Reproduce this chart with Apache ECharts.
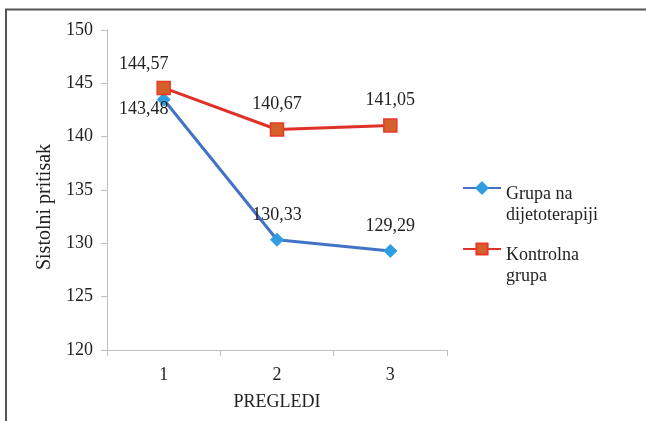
<!DOCTYPE html>
<html>
<head>
<meta charset="utf-8">
<script src="https://cdn.jsdelivr.net/npm/echarts@6/dist/echarts.min.js"></script>
<style>
  html, body { margin: 0; padding: 0; background: #fff; }
  #chart { width: 646px; height: 421px; }
</style>
</head>
<body>
<div id="chart"></div>
<script>
// Examination rounds and mean systolic pressure per group
const pregledi = ['1', '2', '3'];
const grupaDijeta = [143.48, 130.33, 129.29];
const kontrolnaGrupa = [144.57, 140.67, 141.05];
const yTicks = { min: 120, max: 150, step: 5 };

const FONT = '"Liberation Serif", "Times New Roman", serif';
const fmt = v => v.toFixed(2).replace('.', ',');

const chart = echarts.init(document.getElementById('chart'), null, { renderer: 'canvas' });

const valueLabel = {
  show: true,
  position: 'top',
  distance: 9,
  fontFamily: FONT,
  fontSize: 18,
  color: '#222',
  formatter: p => fmt(p.value)
};

// first-point labels sit to the left of the marker
const blueData = grupaDijeta.map((v, i) => i === 0
  ? { value: v, label: { position: 'bottom', offset: [-20, -15] } }
  : v);
const redData = kontrolnaGrupa.map((v, i) => i === 0
  ? { value: v, label: { offset: [-20, 2] } }
  : v);

chart.setOption({
  animation: false,
  backgroundColor: '#fff',
  grid: { left: 107, right: 199, top: 30, bottom: 71 },
  graphic: [{
    type: 'polyline',
    shape: { points: [[6, 421], [6, 9.5], [646, 9.5]] },
    style: { stroke: '#555', lineWidth: 2, fill: null },
    silent: true
  }],
  legend: {
    orient: 'vertical',
    left: 462,
    top: 158,
    padding: 0,
    itemGap: -5,
    itemWidth: 38,
    itemHeight: 14,
    // a taller blank spacer line puts the first text line level with the icon
    formatter: name => '{s| }\n' + name.split('\n').map(t => '{t|' + t + '}').join('\n'),
    textStyle: {
      fontFamily: FONT,
      fontSize: 18,
      color: '#222',
      rich: {
        s: { lineHeight: 33, fontSize: 18, fontFamily: FONT },
        t: { lineHeight: 21, fontSize: 18, fontFamily: FONT, color: '#222' }
      }
    },
    data: ['Grupa na\ndijetoterapiji', 'Kontrolna\ngrupa']
  },
  xAxis: {
    type: 'category',
    data: pregledi,
    boundaryGap: true,
    name: 'PREGLEDI',
    nameLocation: 'middle',
    nameGap: 43,
    nameTextStyle: { fontFamily: FONT, fontSize: 18, color: '#222' },
    axisLine: { lineStyle: { color: '#bfbfbf', width: 1 } },
    axisTick: { show: true, length: 6, alignWithLabel: false, lineStyle: { color: '#bfbfbf' } },
    axisLabel: { fontFamily: FONT, fontSize: 18, color: '#222', margin: 16 },
    splitLine: { show: false }
  },
  yAxis: {
    type: 'value',
    min: yTicks.min,
    max: yTicks.max,
    interval: yTicks.step,
    name: 'Sistolni pritisak',
    nameLocation: 'middle',
    nameGap: 50,
    nameRotate: 90,
    nameTextStyle: { fontFamily: FONT, fontSize: 20, color: '#222', padding: [0, 34, 0, 0] },
    axisLine: { show: true, lineStyle: { color: '#bfbfbf', width: 1 } },
    axisTick: { show: true, length: 6, lineStyle: { color: '#bfbfbf' } },
    axisLabel: { fontFamily: FONT, fontSize: 18, color: '#222', margin: 14 },
    splitLine: { show: false }
  },
  series: [
    {
      name: 'Grupa na\ndijetoterapiji',
      type: 'line',
      data: blueData,
      symbol: 'diamond',
      symbolSize: 13,
      lineStyle: { color: '#4472c4', width: 3 },
      itemStyle: { color: '#2e9ee0', borderColor: '#2e9ee0', borderWidth: 1 },
      label: valueLabel,
      z: 2
    },
    {
      name: 'Kontrolna\ngrupa',
      type: 'line',
      data: redData,
      symbol: 'rect',
      symbolSize: 13,
      lineStyle: { color: '#df3128', width: 3 },
      itemStyle: { color: '#d5612a', borderColor: '#e8382a', borderWidth: 1.5 },
      label: valueLabel,
      z: 3
    }
  ]
});
</script>
</body>
</html>
